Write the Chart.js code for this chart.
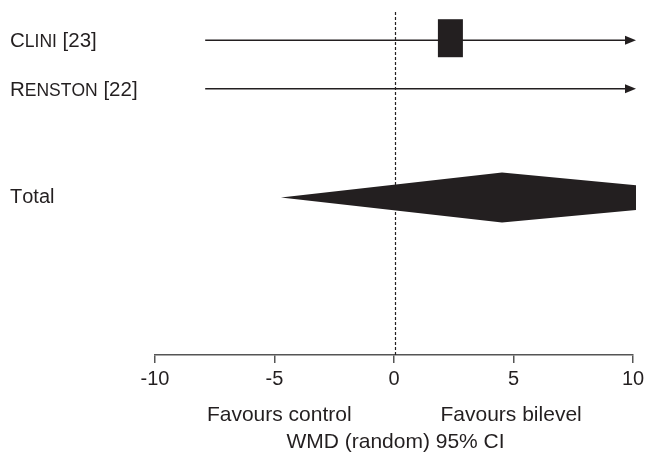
<!DOCTYPE html>
<html>
<head>
<meta charset="utf-8">
<script src="https://cdn.jsdelivr.net/npm/chart.js@4/dist/chart.umd.min.js"></script>
<style>
  html, body { margin: 0; padding: 0; background: #ffffff; }
  #wrap { width: 646px; height: 460px; position: relative; }
</style>
</head>
<body>
<div id="wrap"><canvas id="c" width="646" height="460"></canvas></div>
<script>
// ---- data ----
const studies   = ['Clini [23]', 'Renston [22]', 'Total'];
const smallCaps = [true, true, false];
const isPooled  = [false, false, true];
const rows      = [1, 2, 4.25];
const estimate  = [2.36, 13.0, 4.52];
const lowerCI   = [-7.9, -7.9, -4.73];
const upperCI   = [12.6, 33.9, 15.6];
const xTicks    = [-10, -5, 0, 5, 10];
const favours   = ['Favours control', 'Favours bilevel'];
const axisTitle = 'WMD (random) 95% CI';

const INK = '#231f20';
const FONT = '"Liberation Sans", Arial, sans-serif';

function drawLabel(ctx, text, sc, x, y) {
  ctx.textBaseline = 'alphabetic';
  ctx.textAlign = 'left';
  let cx = x;
  for (const ch of text) {
    let size = sc ? 20.5 : 20, c = ch;
    if (sc && ch >= 'a' && ch <= 'z') { size = 17.5; c = ch.toUpperCase(); }
    ctx.font = size + 'px ' + FONT;
    ctx.fillText(c, cx, y);
    cx += ctx.measureText(c).width;
  }
}

const forestPlugin = {
  id: 'forest',
  afterDatasetsDraw(chart) {
    const { ctx, chartArea: a, scales: { x, y } } = chart;
    const x0 = x.getPixelForValue(0);
    ctx.save();
    // null line
    ctx.strokeStyle = INK;
    ctx.lineWidth = 1.2;
    ctx.setLineDash([3, 2]);
    ctx.beginPath();
    ctx.moveTo(x0 + 1.5, a.top - 4);
    ctx.lineTo(x0 + 1.5, a.bottom);
    ctx.stroke();
    ctx.setLineDash([]);

    const right = a.right + 3;
    ctx.fillStyle = INK;
    studies.forEach((s, i) => {
      const py = y.getPixelForValue(rows[i]);
      ctx.fillStyle = INK;
      drawLabel(ctx, s, smallCaps[i], 10, py + (isPooled[i] ? 5 : 7));
      const lo = x.getPixelForValue(lowerCI[i]);
      const hi = x.getPixelForValue(upperCI[i]);
      const est = x.getPixelForValue(estimate[i]);
      if (isPooled[i]) {
        const h = 25;
        ctx.save();
        ctx.beginPath();
        ctx.rect(a.left - 10, a.top - 10, right - (a.left - 10), a.height + 20);
        ctx.clip();
        ctx.beginPath();
        ctx.moveTo(lo, py);
        ctx.lineTo(est, py - h);
        ctx.lineTo(hi, py);
        ctx.lineTo(est, py + h);
        ctx.closePath();
        ctx.fill();
        ctx.restore();
      } else {
        const arrow = upperCI[i] > x.max;
        const endX = arrow ? right - 10 : hi;
        ctx.strokeStyle = INK;
        ctx.lineWidth = 1.5;
        ctx.beginPath();
        ctx.moveTo(lo, py);
        ctx.lineTo(endX, py);
        ctx.stroke();
        if (arrow) {
          ctx.beginPath();
          ctx.moveTo(right - 11, py - 4.5);
          ctx.lineTo(right, py);
          ctx.lineTo(right - 11, py + 4.5);
          ctx.closePath();
          ctx.fill();
        }
        if (estimate[i] >= x.min && estimate[i] <= x.max) {
          ctx.fillRect(est - 12.5, py - 21, 25, 38);
        }
      }
    });

    // under-axis texts
    ctx.font = '21px ' + FONT;
    ctx.textAlign = 'center';
    ctx.textBaseline = 'alphabetic';
    ctx.fillStyle = INK;
    ctx.fillText(favours[0], x.getPixelForValue(-4.8), 421);
    ctx.fillText(favours[1], x.getPixelForValue(4.9), 421);
    ctx.fillText(axisTitle, x0 + 1.5, 448);
    ctx.restore();
  }
};

new Chart(document.getElementById('c'), {
  type: 'scatter',
  data: {
    datasets: [{
      data: estimate.map((v, i) => ({ x: v, y: rows[i] })),
      pointRadius: 0,
      showLine: false
    }]
  },
  options: {
    responsive: false,
    animation: false,
    events: [],
    layout: { padding: { left: 155, right: 13, top: 16, bottom: 0 } },
    plugins: { legend: { display: false }, tooltip: { enabled: false } },
    scales: {
      x: {
        type: 'linear',
        min: -10, max: 10,
        afterBuildTicks: (s) => { s.ticks = xTicks.map(v => ({ value: v })); },
        afterFit: (s) => { s.height = 105; s.paddingLeft = 0; s.paddingRight = 0; },
        grid: { display: true, drawOnChartArea: false, drawTicks: true, tickLength: 8, color: '#555', lineWidth: 1.5 },
        border: { display: true, color: '#555', width: 1.5 },
        ticks: { color: INK, font: { family: FONT, size: 20 }, padding: 4, maxRotation: 0 }
      },
      y: {
        type: 'linear',
        display: false,
        reverse: true,
        min: 0.5, max: 7.5
      }
    }
  },
  plugins: [forestPlugin]
});
</script>
</body>
</html>
